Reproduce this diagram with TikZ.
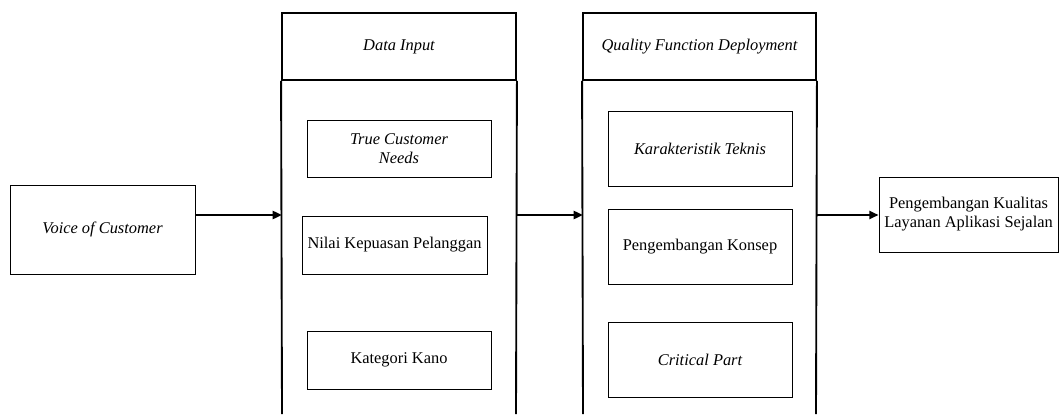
\documentclass[tikz,border=0pt]{standalone}
\usepackage{fontspec}
\setmainfont{Liberation Serif}
\usetikzlibrary{arrows.meta}
\begin{document}
\begin{tikzpicture}[x=0.75pt,y=-0.75pt,
  every node/.style={font=\fontsize{12.3}{14.3}\selectfont},
  box/.style={draw, line width=0.6pt, align=center, inner sep=0pt, minimum width=138pt},
  colhead/.style={draw, line width=1.4pt, align=center, inner sep=0pt, minimum height=50.25pt},
  collines/.style={line width=1.4pt},
  flow/.style={line width=2.2pt, -{Triangle[length=7pt,width=6pt]}}]
\useasboundingbox (0,0) rectangle (1059,414);
% left input
\node[box, minimum width=138.75pt, minimum height=66.75pt] (voice) at (102.5,229.5) {\itshape Voice of Customer};
% column 1
\node[colhead, minimum width=175.5pt] (h1) at (399,46.5) {\itshape Data Input};
\coordinate (b1l) at (282,414);
\coordinate (b1r) at (516,414);
\draw[collines] (h1.south west) -- (b1l);
\draw[collines] (h1.south east) -- (b1r);
\node[box, minimum height=42.75pt] (tcn) at (399,148.5) {\itshape True Customer\\\itshape Needs};
\node[box, minimum width=138.75pt, minimum height=43.5pt] (nilai) at (394.5,245) {Nilai Kepuasan Pelanggan};
\node[box, minimum height=43.5pt] (kano) at (399,360) {Kategori Kano};
% column 2
\node[colhead, minimum width=174.75pt] (h2) at (699.5,46.5) {\itshape Quality Function Deployment};
\coordinate (b2l) at (583,414);
\coordinate (b2r) at (816,414);
\draw[collines] (h2.south west) -- (b2l);
\draw[collines] (h2.south east) -- (b2r);
\node[box, minimum height=56.25pt] (kt) at (700,148.5) {\itshape Karakteristik Teknis};
\node[box, minimum height=56.25pt] (pk) at (700,246.5) {Pengembangan Konsep};
\node[box, minimum height=56.25pt] (cp) at (700,359.5) {\itshape Critical Part};
% output
\node[box, minimum width=134.25pt, minimum height=56.25pt] (out) at (968.5,214.5) {Pengembangan Kualitas\\Layanan Aplikasi Sejalan};
% arrows
\coordinate (a1s) at (voice.east |- 0,215);
\coordinate (a1e) at (282,215);
\coordinate (a2s) at (516,215);
\coordinate (a2e) at (583,215);
\coordinate (a3s) at (816,215);
\coordinate (a3e) at (out.west |- 0,215);
\draw[flow] (a1s) -- (a1e);
\draw[flow] (a2s) -- (a2e);
\draw[flow] (a3s) -- (a3e);
\end{tikzpicture}
\end{document}
